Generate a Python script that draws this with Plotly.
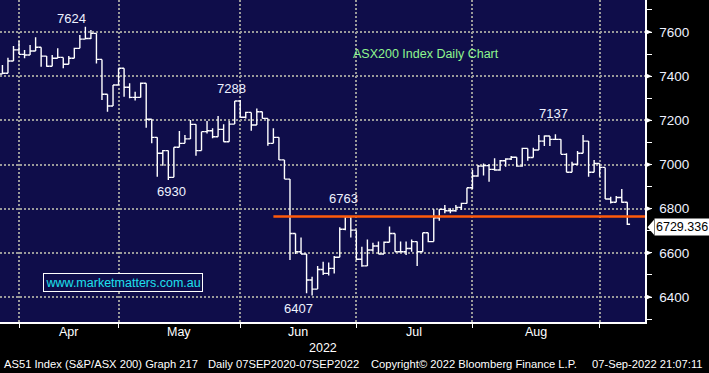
import plotly.graph_objects as go
import pandas as pd

# ---------------- data ----------------
holidays = ["2022-04-15", "2022-04-18", "2022-04-25", "2022-06-13"]
dates = [d for d in pd.bdate_range("2022-03-25", "2022-09-07")
         if d.strftime("%Y-%m-%d") not in holidays]

opens = [7400, 7410, 7413, 7469, 7519, 7499, 7496, 7514, 7531, 7491,
         7445, 7481, 7485, 7454, 7481, 7526, 7568, 7571, 7594, 7476,
         7318, 7265, 7360, 7436, 7350, 7304, 7304, 7368, 7205, 7123,
         7051, 7063, 6942, 7078, 7096, 7116, 7182, 7063, 7149, 7153,
         7126, 7159, 7103, 7183, 7288, 7214, 7236, 7179, 7239, 7209,
         7096, 7123, 7021, 6934, 6688, 6605, 6595, 6477, 6436, 6525,
         6507, 6530, 6580, 6707, 6763, 6703, 6571, 6541, 6613, 6631,
         6595, 6648, 6688, 6605, 6605, 6620, 6651, 6605, 6691, 6651,
         6759, 6797, 6791, 6791, 6806, 6824, 6895, 6948, 6993, 6995,
         6978, 6975, 7017, 7025, 7033, 6993, 7073, 7032, 7066, 7106,
         7129, 7114, 7114, 7046, 6965, 7001, 7051, 7106, 6965, 7005,
         6987, 6844, 6829, 6851, 6829]
highs = [7425, 7451, 7484, 7537, 7559, 7519, 7541, 7576, 7531, 7491,
         7496, 7526, 7485, 7491, 7529, 7586, 7624, 7609, 7594, 7476,
         7318, 7360, 7436, 7436, 7368, 7330, 7372, 7368, 7205, 7123,
         7066, 7063, 7078, 7152, 7134, 7202, 7182, 7149, 7197, 7164,
         7220, 7182, 7197, 7288, 7292, 7239, 7236, 7254, 7239, 7209,
         7164, 7123, 7021, 6934, 6688, 6670, 6595, 6492, 6541, 6560,
         6556, 6586, 6716, 6763, 6764, 6703, 6628, 6661, 6646, 6651,
         6651, 6719, 6688, 6651, 6651, 6661, 6651, 6691, 6691, 6797,
         6797, 6817, 6802, 6817, 6827, 6895, 6975, 6998, 7005, 7001,
         7028, 7021, 7028, 7039, 7033, 7076, 7073, 7076, 7134, 7131,
         7129, 7137, 7114, 7051, 7013, 7061, 7134, 7106, 7020, 7005,
         6987, 6854, 6857, 6889, 6829]
lows = [7395, 7410, 7413, 7469, 7499, 7481, 7496, 7514, 7443, 7443,
        7445, 7481, 7436, 7454, 7481, 7526, 7568, 7568, 7458, 7292,
        7239, 7265, 7360, 7307, 7300, 7290, 7304, 7167, 7096, 6945,
        6995, 6930, 6942, 7078, 7096, 7116, 7040, 7063, 7141, 7119,
        7126, 7103, 7103, 7183, 7214, 7209, 7153, 7179, 7209, 7085,
        7096, 7021, 6934, 6568, 6595, 6595, 6417, 6407, 6436, 6500,
        6497, 6507, 6580, 6703, 6670, 6568, 6537, 6541, 6605, 6595,
        6595, 6648, 6605, 6605, 6590, 6605, 6541, 6605, 6648, 6651,
        6746, 6779, 6779, 6786, 6794, 6824, 6889, 6945, 6950, 6922,
        6972, 6972, 6990, 7021, 6990, 6990, 7017, 7032, 7066, 7084,
        7084, 7114, 7046, 6965, 6965, 6998, 7051, 6945, 6965, 6945,
        6844, 6824, 6829, 6827, 6726]
closes = [7410, 7413, 7469, 7519, 7499, 7496, 7514, 7531, 7491, 7445,
          7481, 7485, 7454, 7481, 7526, 7568, 7571, 7594, 7476, 7318,
          7265, 7360, 7436, 7350, 7304, 7304, 7368, 7205, 7123, 7051,
          7063, 6942, 7078, 7096, 7116, 7182, 7063, 7149, 7153, 7126,
          7159, 7103, 7183, 7288, 7214, 7236, 7179, 7239, 7209, 7096,
          7123, 7021, 6934, 6688, 6605, 6595, 6477, 6436, 6525, 6507,
          6530, 6580, 6707, 6763, 6703, 6571, 6541, 6613, 6631, 6595,
          6648, 6688, 6605, 6605, 6620, 6651, 6605, 6691, 6651, 6759,
          6797, 6791, 6791, 6806, 6824, 6895, 6948, 6993, 6995, 6978,
          6975, 7017, 7025, 7033, 6993, 7073, 7032, 7066, 7106, 7129,
          7114, 7114, 7046, 6965, 7001, 7051, 7106, 6965, 7005, 6987,
          6844, 6829, 6851, 6829, 6729.336]

support_level = 6765
y_ticks = [6400, 6600, 6800, 7000, 7200, 7400, 7600]

# labels: (text, x position in bar units, y position in index units)
peak_labels = [("7624", 13.5, 7663), ("7288", 42.5, 7346), ("6930", 31.5, 6880),
               ("6763", 62.6, 6844), ("6407", 54.6, 6346), ("7137", 100.6, 7233)]

footer_parts = [("AS51 Index (S&P/ASX 200) Graph 217", 2),
                ("Daily 07SEP2020-07SEP2022", 206),
                ("Copyright\u00a9 2022 Bloomberg Finance L.P.", 369),
                ("07-Sep-2022 21:07:11", 590)]

# ---------------- derived positions ----------------
x = list(range(len(dates)))
month_ends = [i for i in range(len(dates) - 1) if dates[i].month != dates[i + 1].month]
month_mid = [(month_ends[j] + month_ends[j + 1]) / 2 for j in range(len(month_ends) - 1)]
month_txt = [dates[month_ends[j + 1]].strftime("%b") for j in range(len(month_ends) - 1)]

X0, X1 = 0.56, 117.2
Y0, Y1 = 6287, 7745
PW = 645.0   # plot width px
PH = 322.0   # plot height px
upx = (Y1 - Y0) / PH

BG = "#0f0d4a"
GRID = "#9a9a9a"
TXT = "#eef2ff"
FONT = "Liberation Sans, Arial, sans-serif"

fig = go.Figure()
fig.add_trace(go.Ohlc(
    x=x, open=opens, high=highs, low=lows, close=closes,
    increasing=dict(line=dict(color="white", width=1.4)),
    decreasing=dict(line=dict(color="white", width=1.4)),
    tickwidth=0.5, hoverinfo="skip", showlegend=False))

shapes = []
# support line
shapes.append(dict(type="line", xref="x", yref="y", x0=50, x1=X1,
                   y0=support_level, y1=support_level,
                   line=dict(color="#ff5a0a", width=2.5), layer="above"))
# tick triangles on right axis
for v in y_ticks:
    h = 2.6 * upx
    shapes.append(dict(type="path", xref="paper", yref="y",
                       path=f"M 1.0015 {v - h} L {1 + 7 / PW} {v} L 1.0015 {v + h} Z",
                       fillcolor="white", line=dict(width=0)))
# callout arrow
last = closes[-1]
cy = last - 3 * upx
h = 7.5 * upx
shapes.append(dict(type="path", xref="paper", yref="y",
                   path=f"M {1 + 2.5 / PW} {cy} L {1 + 9 / PW} {cy + h} "
                        f"L {1 + 9 / PW} {cy - h} Z",
                   fillcolor="white", line=dict(width=0)))

ann = []
for t, xx, yy in peak_labels:
    ann.append(dict(x=xx, y=yy, xref="x", yref="y", text=t, showarrow=False,
                    xanchor="center", yanchor="middle",
                    font=dict(family=FONT, size=13, color=TXT)))
for t, xx in zip(month_txt, month_mid):
    ann.append(dict(x=xx, y=-10 / PH, xref="x", yref="paper", text=t,
                    showarrow=False, xanchor="center", yanchor="middle",
                    font=dict(family=FONT, size=12.5, color="white")))
ann.append(dict(x=0.5, y=-26 / PH, xref="paper", yref="paper", text="2022", showarrow=False,
                xanchor="center", yanchor="middle",
                font=dict(family=FONT, size=12.5, color="white")))
for t, px in footer_parts:
    ann.append(dict(x=px / PW, y=-42 / PH, xref="paper", yref="paper", text=t,
                    showarrow=False, xanchor="left", yanchor="middle",
                    font=dict(family=FONT, size=11.2, color="white")))
ann.append(dict(x=426 / PW, y=(PH - 54) / PH, xref="paper", yref="paper",
                text="ASX200 Index Daily Chart", showarrow=False,
                xanchor="center", yanchor="middle",
                font=dict(family=FONT, size=12.5, color="#8ef58e")))
ann.append(dict(x=123 / PW, y=(PH - 282.5) / PH, xref="paper", yref="paper",
                text="www.marketmatters.com.au", showarrow=False,
                xanchor="center", yanchor="middle",
                bordercolor="white", borderwidth=1, borderpad=1.5, bgcolor=BG,
                font=dict(family=FONT, size=12.5, color="#1ee0ee")))
ann.append(dict(x=1 + 8.5 / PW, y=cy, xref="paper", yref="y",
                text=f"{last:.3f}", showarrow=False, xanchor="left", yanchor="middle",
                bgcolor="white", borderpad=1,
                font=dict(family=FONT, size=12.5, color="black")))

fig.update_layout(
    width=709, height=373,
    margin=dict(l=0, r=64, t=0, b=51),
    paper_bgcolor="black", plot_bgcolor=BG,
    showlegend=False, hovermode=False,
    shapes=shapes, annotations=ann,
    xaxis=dict(range=[X0, X1], rangeslider=dict(visible=False),
               tickvals=month_ends, showticklabels=False,
               ticks="outside", ticklen=4, tickcolor="white",
               showgrid=True, gridcolor=GRID, gridwidth=2, griddash="2px,2px",
               showline=True, linecolor="white", linewidth=1.5, zeroline=False),
    yaxis=dict(range=[Y0, Y1], side="right", tickvals=y_ticks,
               ticktext=[str(v) for v in y_ticks], ticks="",
               ticklabelstandoff=10,
               minor=dict(dtick=100, tick0=6300, ticks="outside", ticklen=5,
                          tickcolor="white", showgrid=False),
               tickfont=dict(family=FONT, size=13.5, color=TXT),
               showgrid=True, gridcolor=GRID, gridwidth=2, griddash="2px,2px",
               showline=True, linecolor="white", linewidth=1.5, zeroline=False),
)

fig.write_html("out.html", config={"displayModeBar": False, "staticPlot": True},
               post_script="document.body.style.margin='0px';document.body.style.background='black';")
